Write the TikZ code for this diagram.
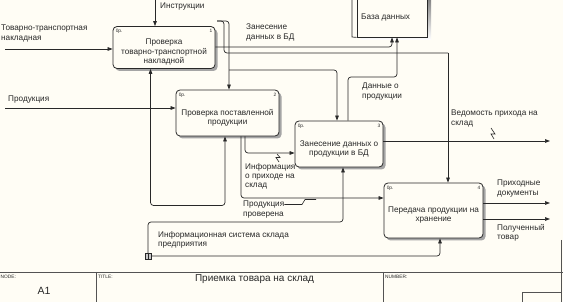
\documentclass[tikz,border=0pt]{standalone}
\usepackage{fontspec}
\setmainfont{Liberation Sans}
\usetikzlibrary{arrows.meta, shadows}

\definecolor{paper}{RGB}{255,253,245}
\definecolor{ink}{RGB}{40,40,40}
\definecolor{shade}{RGB}{165,165,165}

\tikzset{
  box/.style={draw=ink, line width=0.8pt, rounded corners=4pt, fill=paper, inner sep=0pt,
    drop shadow={shadow xshift=2.5pt, shadow yshift=-2.5pt, fill=shade, opacity=1}},
  boxtext/.style={font=\fontsize{8.2}{9.2}\selectfont, align=center, inner sep=0pt, text=ink},
  lbl/.style={font=\fontsize{8.2}{9.2}\selectfont, align=left, anchor=west, inner sep=0pt, text=ink},
  tiny/.style={font=\fontsize{4.8}{5}\selectfont, inner sep=0pt, text=ink},
  arr/.style={-{Triangle[length=5pt,width=3.6pt]}, draw=ink, line width=0.7pt, rounded corners=3pt},
  wire/.style={draw=ink, line width=0.7pt, rounded corners=3pt},
  frame/.style={draw=ink!80, line width=0.9pt},
}

\begin{document}
\begin{tikzpicture}[x=1pt, y=-1pt]
  \useasboundingbox[fill=paper] (0,0) rectangle (563,302);

  % 方框
  \node[box, minimum width=102pt, minimum height=42pt] (p1) at (164,47.5) {};
  \node[box, minimum width=103pt, minimum height=46pt] (p2) at (227.5,113) {};
  \node[box, minimum width=88pt,  minimum height=46pt] (p3) at (339,144) {};
  \node[box, minimum width=99pt,  minimum height=55pt] (p4) at (433.5,210.5) {};

  \node[boxtext] (p1t) at ([yshift=-4.5pt]p1.center) {Проверка\\товарно-транспортной\\накладной};
  \node[boxtext] (p2t) at ([yshift=-4.5pt]p2.center) {Проверка поставленной\\продукции};
  \node[boxtext] (p3t) at ([yshift=-5pt]p3.center) {Занесение данных о\\продукции в БД};
  \node[boxtext] (p4t) at ([yshift=-4.5pt]p4.center) {Передача продукции на\\хранение};

  \foreach \b/\k in {p1/1, p2/2, p3/3, p4/4} {
    \node[tiny, anchor=north west] (\b c) at ([xshift=3pt, yshift=-3pt]\b.north west) {0р.};
    \node[tiny, anchor=north east] (\b k) at ([xshift=-3pt, yshift=-3pt]\b.north east) {\k};
  }

  % база данных (срезана сверху)
  \fill[shade] (361,-2) rectangle (431,40);
  \node[draw=ink, line width=0.8pt, fill=paper, minimum width=70pt, minimum height=44pt, inner sep=0pt] (db) at (392,15) {};
  \draw[ink, line width=0.7pt] (352,-2) -- (352,37) -- (db.south west);
  \node[lbl] (dbt) at (361,17) {База данных};

  % входы
  \coordinate (in1) at (5,49);
  \coordinate (in2) at (5,108);
  \draw[arr] (in1) -- (in1 -| p1.west);
  \draw[arr] (in2) -- (in2 -| p2.west);
  \node[lbl] (in1l) at (1,33.5) {Товарно-транспортная\\накладная};
  \node[lbl] (in2l) at (8,100) {Продукция};

  % управление
  \coordinate (c0) at (155,-2);
  \coordinate (c1) at (217,21);
  \draw[arr] (c0) -- (c0 |- p1.north);
  \draw[wire] (c1) -- (224,21) -- (224,53) -- (448,53);
  \draw[arr] (448,53) -- (448,53 |- p4.north);
  \draw[arr] (c1) -- (229,21) -- (229,21 |- p2.north);
  \draw[arr] (229,70) -- (337,70) -- (337,70 |- p3.north);
  \node[lbl] (c0l) at (160,7) {Инструкции};

  % выходы 1 и 3 в БД
  \coordinate (o1) at (p1.east |- 0,47);
  \draw[arr] (o1) -- (392,47) -- (392,47 |- db.south);
  \node[lbl] (o1l) at (246,32.5) {Занесение\\данных в БД};
  \draw[arr] (348,0 |- p3.north) -- (348,77) -- (397,77) -- (397,77 |- db.south);
  \node[lbl] (o3l) at (362,91.5) {Данные о\\продукции};

  % выход 3 наружу
  \coordinate (o3) at (550,141);
  \draw[arr] (o3 -| p3.east) -- (o3);
  \node[lbl] (o3r) at (451,118.5) {Ведомость прихода на\\склад};
  \draw[ink, line width=0.6pt] (491,128) -- (495,134) -- (491,134) -- (494,139);

  % выходы 2
  \draw[arr] (245,0 |- p2.south) -- (245,153) -- (245,153 -| p3.west);
  \draw[arr] (241,0 |- p2.south) -- (241,198) -- (241,198 -| p4.west);
  \node[lbl] (o2a) at (245,176.5) {Информация\\о приходе на\\склад};
  \draw[ink, line width=0.6pt] (279,162) -- (276,157.5) -- (280,157.5) -- (277,154);
  \node[lbl] (o2b) at (243,209.5) {Продукция\\проверена};
  \draw[ink, line width=0.6pt] (o2b.east |- 0,204.5) -- (302,204.5) -- (305,199.5) -- (316,199.5);

  % выходы 4
  \coordinate (o4a) at (550,203);
  \coordinate (o4b) at (550,219);
  \draw[arr] (o4a -| p4.east) -- (o4a);
  \draw[arr] (o4b -| p4.east) -- (o4b);
  \node[lbl] (o4al) at (497,188.5) {Приходные\\документы};
  \node[lbl] (o4bl) at (497,232.5) {Полученный\\товар};

  % механизм
  \draw[arr, {Triangle[length=5pt,width=3.6pt]}-{Triangle[length=5pt,width=3.6pt]}]
    (150.5,0 |- p1.south) -- (150.5,205.5) -- (225,205.5) -- (225,0 |- p2.south);
  \coordinate (tun) at (148,256);
  \draw[arr] (tun) -- (148,222) -- (343,222) -- (343,0 |- p3.south);
  \draw[arr] (tun) -- (440,256) -- (440,0 |- p4.south);
  \node[draw=ink, fill=shade!60, minimum size=6pt, inner sep=0pt] (tunb) at (tun) {};
  \draw[ink, line width=0.5pt] (tunb.north) -- (tunb.south);
  \node[lbl] (ml) at (158,239.5) {Информационная система склада\\предприятия};

  % рамка
  \draw[frame] (0,272) -- (563,272);
  \draw[frame] (96,272) -- (96,302);
  \draw[frame] (383,272) -- (383,302);
  \draw[frame] (561,240) -- (561,302);
  \draw[frame] (522,302) -- (522,292) -- (561,292);
  \node[tiny, anchor=north west] (nodel) at (0.5,274.5) {NODE:};
  \node[tiny, anchor=north west] (titlel) at (98,274.5) {TITLE:};
  \node[tiny, anchor=north west] (numl) at (385,274.5) {NUMBER:};
  \node[font=\fontsize{10.5}{11}\selectfont, text=ink] (nodev) at (44,291) {A1};
  \node[font=\fontsize{10}{11}\selectfont, text=ink] (titlev) at (254.5,279.5) {Приемка товара на склад};
\end{tikzpicture}
\end{document}
